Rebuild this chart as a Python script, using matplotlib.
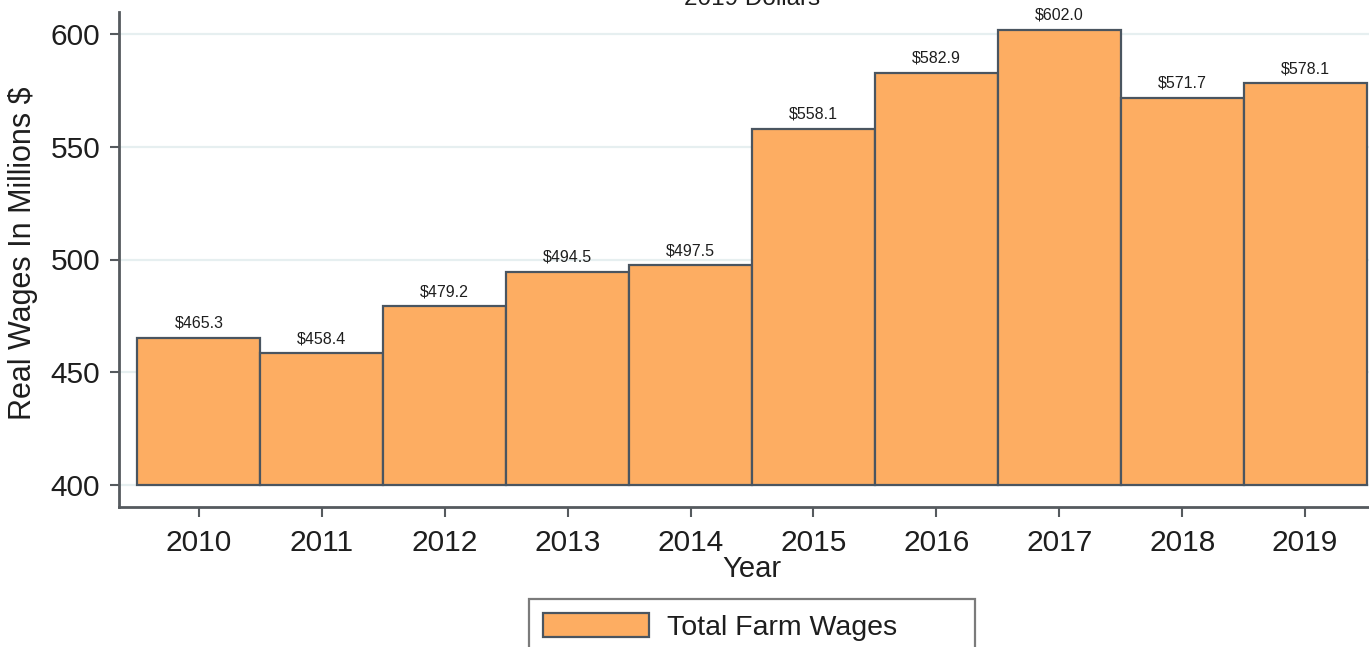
import matplotlib
matplotlib.use('Agg')
import matplotlib.pyplot as plt
import numpy as np

years = [2010, 2011, 2012, 2013, 2014, 2015, 2016, 2017, 2018, 2019]
wages = [465.3, 458.4, 479.2, 494.5, 497.5, 558.1, 582.9, 602.0, 571.7, 578.1]
y_ticks = [400, 450, 500, 550, 600]
base = 400

plt.rcParams['font.family'] = ['Liberation Sans', 'DejaVu Sans']
text_col = '#1e1e1e'
axis_col = '#555a5e'

fig = plt.figure(figsize=(13.69, 6.47), dpi=100)
# axes run a little past the right edge, like the cropped original
ax = fig.add_axes([119 / 1369, 140 / 647, 1266 / 1369, 495 / 647])

bars = ax.bar(years, np.array(wages) - base, bottom=base, width=1.0,
              color='#FDAD62', edgecolor='#4a5560', linewidth=1.6,
              label='Total Farm Wages', zorder=3)

for x, v in zip(years, wages):
    ax.annotate('\\$%.1f' % v, (x, v), xytext=(0, 5), textcoords='offset points',
                ha='center', va='bottom', fontsize=11.5, color=text_col)

ax.set_xlim(2009.35, 2019.65)
ax.set_ylim(390.2, 609.8)
ax.set_xticks(years)
ax.set_yticks(y_ticks)
ax.tick_params(axis='both', labelsize=21.5, colors=axis_col, labelcolor=text_col, width=1.5)
ax.tick_params(axis='x', length=7.5, pad=8.5)
ax.tick_params(axis='y', length=6.5, pad=7)

ax.yaxis.grid(True, color='#E6EFF0', linewidth=1.6, zorder=0)
ax.set_axisbelow(True)

for s in ['top', 'right']:
    ax.spines[s].set_visible(False)
for s in ['left', 'bottom']:
    ax.spines[s].set_color(axis_col)
    ax.spines[s].set_linewidth(2)

ax.set_xlabel('Year', fontsize=21, color=text_col)
ax.xaxis.set_label_coords(0.5, -0.097)
ax.set_ylabel('Real Wages In Millions $', fontsize=22, color=text_col)
ax.yaxis.set_label_coords(-0.064, 0.513)

fig.text(752 / 1369, 1 - 5 / 647, '2019 Dollars', ha='center', va='baseline',
         fontsize=17.5, color=text_col)

leg = fig.legend(handles=[bars], loc='upper left',
                 bbox_to_anchor=(529 / 1369, 1 - 599 / 647, 446 / 1369, 0.0),
                 mode='expand', fontsize=20.5, frameon=True, fancybox=False,
                 handlelength=3.7, handleheight=0.9, handletextpad=0.65,
                 borderpad=0.5, borderaxespad=0)
leg.get_frame().set_edgecolor('#5a5a5a')
leg.get_frame().set_linewidth(1.6)
for t in leg.get_texts():
    t.set_color(text_col)

fig.savefig('out.png', dpi=100)
